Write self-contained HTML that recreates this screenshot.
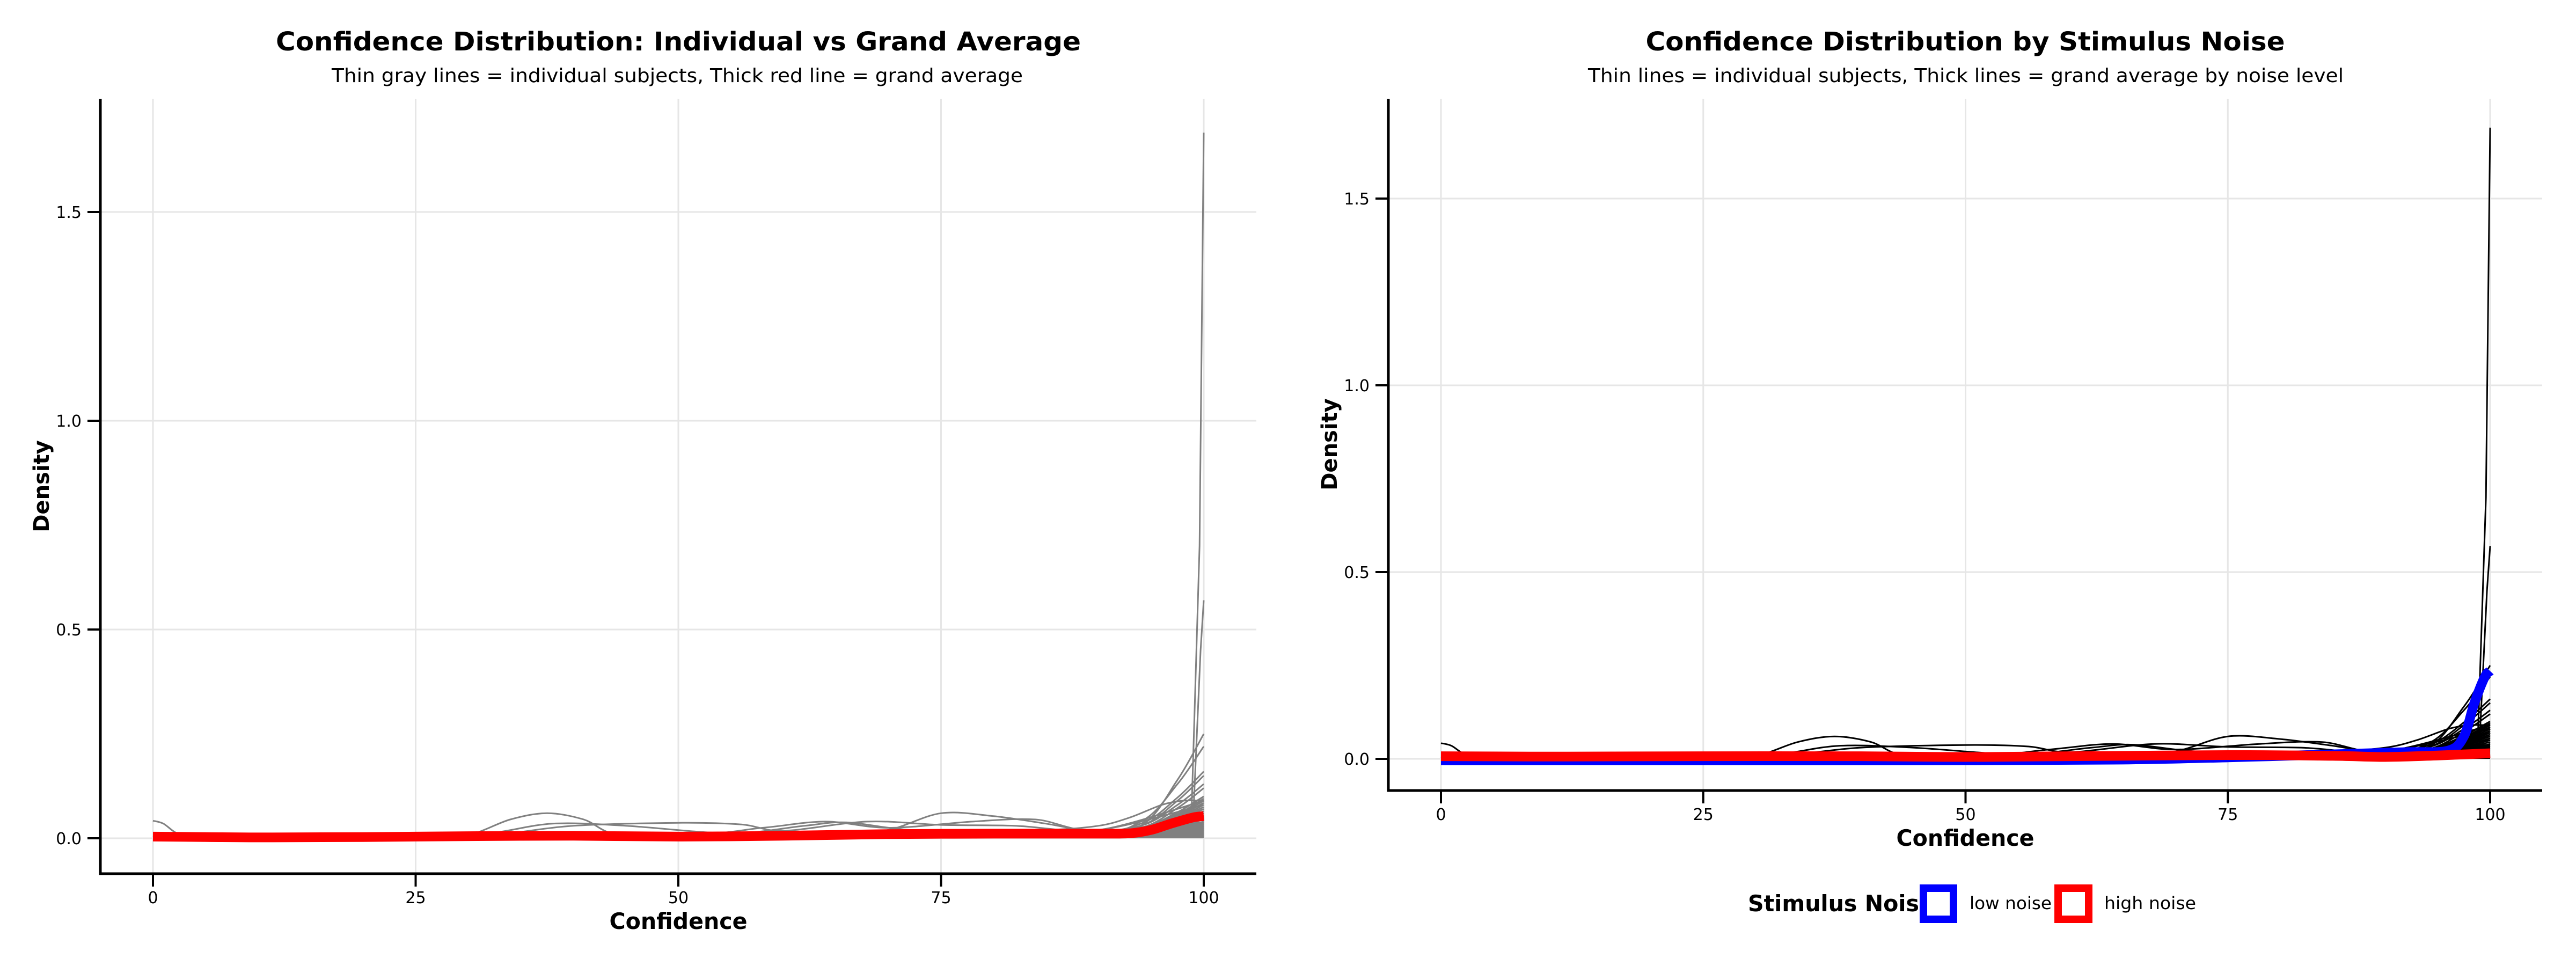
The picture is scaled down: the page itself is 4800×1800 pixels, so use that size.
<!DOCTYPE html>
<html><head><meta charset="utf-8"><style>
html,body{margin:0;padding:0;background:#fff;}
svg{display:block;font-family:"DejaVu Sans","Liberation Sans",sans-serif;}
</style></head>
<body>
<svg id="chart" xmlns="http://www.w3.org/2000/svg" width="4800" height="1800" viewBox="0 0 4800 1800">
<rect x="0" y="0" width="4800" height="1800" fill="#fff"/>
<g id="left"></g>
<g id="right"></g>
<text x="1264" y="94" text-anchor="middle" font-weight="bold" font-size="48" textLength="1500" lengthAdjust="spacingAndGlyphs">Confidence Distribution: Individual vs Grand Average</text>
<text x="1262" y="153" text-anchor="middle" font-size="36" textLength="1288" lengthAdjust="spacingAndGlyphs">Thin gray lines = individual subjects, Thick red line = grand average</text>
<text x="3662" y="94" text-anchor="middle" font-weight="bold" font-size="48" textLength="1191" lengthAdjust="spacingAndGlyphs">Confidence Distribution by Stimulus Noise</text>
<text x="3663" y="153" text-anchor="middle" font-size="36" textLength="1408" lengthAdjust="spacingAndGlyphs">Thin lines = individual subjects, Thick lines = grand average by noise level</text>
<g>
<text x="3257" y="1698" font-weight="bold" font-size="42" textLength="319" lengthAdjust="spacingAndGlyphs">Stimulus Nois</text>
<rect x="3584" y="1655" width="56" height="58" fill="#fff" stroke="#0000ff" stroke-width="14"/>
<text x="3670" y="1694" font-size="32" textLength="153" lengthAdjust="spacingAndGlyphs">low noise</text>
<rect x="3835" y="1655" width="57" height="58" fill="#fff" stroke="#ff0000" stroke-width="14"/>
<text x="3921" y="1694" font-size="32" textLength="171" lengthAdjust="spacingAndGlyphs">high noise</text>
</g>
</svg>
<script>
// ---- data ----
const xTicks = [0, 25, 50, 75, 100];
const xTickLabels = ["0", "25", "50", "75", "100"];
const yTicks = [0, 0.5, 1.0, 1.5];
const yTickLabels = ["0.0", "0.5", "1.0", "1.5"];

// individual subjects with distinct shapes (confidence x, density y)
const subjSpikeX = [0, 50, 90, 97, 98.8, 99.6, 100];
const subjSpikeY = [0.0, 0.002, 0.005, 0.01, 0.03, 0.7, 1.69];
const subjSpike2X = [0, 50, 90, 96, 99.0, 99.7, 100];
const subjSpike2Y = [0.003, 0.006, 0.008, 0.02, 0.05, 0.45, 0.57];
const subjBumpAX = [0, 25, 30, 34, 37.5, 41, 44, 50, 75, 90, 95, 100];
const subjBumpAY = [0.0, 0.0, 0.008, 0.045, 0.06, 0.045, 0.01, 0.005, 0.01, 0.012, 0.02, 0.06];
const subjBumpBX = [0, 25, 32, 38, 45, 55, 62, 66, 72, 80, 90, 100];
const subjBumpBY = [0.005, 0.004, 0.012, 0.035, 0.03, 0.012, 0.03, 0.038, 0.02, 0.018, 0.015, 0.05];
const subjBumpCX = [0, 25, 33, 40, 50, 56, 60, 68, 75, 82, 90, 100];
const subjBumpCY = [0.005, 0.004, 0.01, 0.03, 0.037, 0.033, 0.018, 0.04, 0.032, 0.03, 0.02, 0.08];
const subjBumpDX = [0, 25, 50, 65, 70, 75, 80, 85, 90, 95, 100];
const subjBumpDY = [0.003, 0.004, 0.006, 0.012, 0.02, 0.06, 0.053, 0.035, 0.015, 0.03, 0.1];
const subjBumpEX = [0, 25, 50, 58, 64, 70, 78, 84, 90, 100];
const subjBumpEY = [0.004, 0.005, 0.008, 0.025, 0.04, 0.025, 0.04, 0.045, 0.02, 0.09];
const subjBumpFX = [0, 25, 50, 75, 85, 90, 93, 96, 98, 100];
const subjBumpFY = [0.005, 0.006, 0.01, 0.018, 0.02, 0.03, 0.05, 0.08, 0.09, 0.09];
const subjBumpGX = [0, 1, 2.5, 5, 25, 50, 80, 90, 95, 100];
const subjBumpGY = [0.042, 0.035, 0.01, 0.004, 0.004, 0.006, 0.01, 0.015, 0.025, 0.07];

// remaining subjects: value at the right end (density at confidence 100)
const subjEndPeaks = [0.25, 0.22, 0.16, 0.15, 0.13, 0.12, 0.1, 0.095, 0.09, 0.085, 0.08, 0.075, 0.07, 0.065, 0.06, 0.055, 0.05, 0.045, 0.04, 0.035, 0.03, 0.025, 0.02];
const subjEndMid = [0.03, 0.04, 0.035, 0.03, 0.03, 0.025, 0.025, 0.02, 0.02, 0.02, 0.018, 0.018, 0.016, 0.015, 0.015, 0.014, 0.012, 0.012, 0.01, 0.01, 0.01, 0.008, 0.008];
// dense shaded crowd of lines near 100
const crowdX = [90, 93, 95, 97, 98, 99, 100];
const crowdY = [0.0, 0.004, 0.01, 0.025, 0.033, 0.038, 0.04];

// grand averages
const grandX = [0, 5, 10, 20, 30, 40, 50, 60, 70, 80, 90, 93, 95, 97, 99, 100];
const grandAllY = [0.004, 0.003, 0.002, 0.003, 0.005, 0.006, 0.004, 0.006, 0.01, 0.011, 0.011, 0.012, 0.02, 0.036, 0.05, 0.053];
const lowNoiseX = [0, 25, 50, 65, 75, 85, 92, 96, 97.5, 98.5, 99.5, 100];
const lowNoiseY = [-0.004, -0.004, -0.004, -0.002, 0.004, 0.012, 0.018, 0.022, 0.06, 0.15, 0.22, 0.235];
const highNoiseX = [0, 10, 25, 40, 50, 60, 75, 85, 90, 95, 100];
const highNoiseY = [0.007, 0.006, 0.007, 0.007, 0.005, 0.007, 0.01, 0.008, 0.005, 0.009, 0.015];

const NS = "http://www.w3.org/2000/svg";
function mk(parent, tag, attrs) {
  const e = document.createElementNS(NS, tag);
  for (const k in attrs) e.setAttribute(k, attrs[k]);
  parent.appendChild(e);
  return e;
}
function smoothPath(xs, ys, sx, sy) {
  const p = xs.map((x, i) => [sx(x), sy(ys[i])]);
  let d = "M" + p[0][0].toFixed(1) + "," + p[0][1].toFixed(1);
  for (let i = 0; i < p.length - 1; i++) {
    const p0 = p[Math.max(i - 1, 0)], p1 = p[i], p2 = p[i + 1], p3 = p[Math.min(i + 2, p.length - 1)];
    const t = 0.16;
    let c1x = p1[0] + (p2[0] - p0[0]) * t, c1y = p1[1] + (p2[1] - p0[1]) * t;
    let c2x = p2[0] - (p3[0] - p1[0]) * t, c2y = p2[1] - (p3[1] - p1[1]) * t;
    c1x = Math.min(Math.max(c1x, p1[0]), p2[0]); c2x = Math.min(Math.max(c2x, p1[0]), p2[0]);
    d += " C" + c1x.toFixed(1) + "," + c1y.toFixed(1) + " " + c2x.toFixed(1) + "," + c2y.toFixed(1) + " " + p2[0].toFixed(1) + "," + p2[1].toFixed(1);
  }
  return d;
}

function drawPanel(g, cfg) {
  const sx = v => cfg.x0 + (cfg.x100 - cfg.x0) * v / 100;
  const sy = v => cfg.y0 - cfg.yUnit * v;
  // grid
  xTicks.forEach(t => {
    const l = mk(g, "line", {x1: sx(t), x2: sx(t), y1: cfg.top, y2: cfg.bottom, stroke: "#e6e6e6", "stroke-width": 3});
    
    
  });
  yTicks.forEach(t => {
    const l = mk(g, "line", {x1: cfg.left, x2: cfg.right, y1: sy(t), y2: sy(t), stroke: "#e6e6e6", "stroke-width": 3});
    
    
  });
  // subjects
  const col = cfg.subjColor;
  const crowd = mk(g, "path", {d: smoothPath(crowdX, crowdY, sx, sy) + " L" + sx(100) + "," + sy(0) + " L" + sx(90) + "," + sy(0) + "Z", fill: col, stroke: "none"});
  
  
  subjEndPeaks.forEach((e, i) => {
    const m = subjEndMid[i];
    const xs = [0, 30, 60, 88, 94, 97.5, 100];
    const ys = [0.004, 0.006, 0.009, Math.min(m, 0.015), m, (m + e) / 2, e];
    const p = mk(g, "path", {d: smoothPath(xs, ys, sx, sy), fill: "none", stroke: col, "stroke-width": 3});
    
    
  });
  const named = [[subjBumpAX, subjBumpAY], [subjBumpBX, subjBumpBY], [subjBumpCX, subjBumpCY], [subjBumpDX, subjBumpDY],
    [subjBumpEX, subjBumpEY], [subjBumpFX, subjBumpFY], [subjBumpGX, subjBumpGY]];
  named.forEach(s => {
    const p = mk(g, "path", {d: smoothPath(s[0], s[1], sx, sy), fill: "none", stroke: col, "stroke-width": 3});
    
    
  });
  [[subjSpikeX, subjSpikeY], [subjSpike2X, subjSpike2Y]].forEach(s => {
    const d = s[0].map((x, i) => (i ? "L" : "M") + sx(x).toFixed(1) + "," + sy(s[1][i]).toFixed(1)).join(" ");
    const p = mk(g, "path", {d: d, fill: "none", stroke: col, "stroke-width": 3});
    
    
  });
  // grand average lines
  cfg.avgs.forEach(a => {
    const p = mk(g, "path", {d: smoothPath(a.x, a.y, sx, sy), fill: "none", stroke: a.color, "stroke-width": 18, "stroke-linejoin": "round"});
    
    
  });
  // axes
  const ya = mk(g, "line", {x1: cfg.left, x2: cfg.left, y1: cfg.top, y2: cfg.bottom + 2, stroke: "#000", "stroke-width": 5});
  
  
  const xa = mk(g, "line", {x1: cfg.left - 2, x2: cfg.right, y1: cfg.bottom, y2: cfg.bottom, stroke: "#000", "stroke-width": 5});
  
  
  xTicks.forEach((t, i) => {
    const tk = mk(g, "line", {x1: sx(t), x2: sx(t), y1: cfg.bottom, y2: cfg.bottom + 24, stroke: "#000", "stroke-width": 4});
    
    
    const tx = mk(g, "text", {x: sx(t), y: cfg.bottom + 55, "text-anchor": "middle", "font-size": 30});
    tx.textContent = xTickLabels[i];
    
    
  });
  yTicks.forEach((t, i) => {
    const tk = mk(g, "line", {x1: cfg.left - 24, x2: cfg.left, y1: sy(t), y2: sy(t), stroke: "#000", "stroke-width": 4});
    
    
    const tx = mk(g, "text", {x: cfg.left - 35, y: sy(t) + 11, "text-anchor": "end", "font-size": 30});
    tx.textContent = yTickLabels[i];
    
    
  });
  const xt = mk(g, "text", {x: (cfg.left + cfg.right) / 2, y: cfg.xTitleY + 15, "text-anchor": "middle", "font-size": 42, "font-weight": "bold", textLength: 257, lengthAdjust: "spacingAndGlyphs"});
  xt.textContent = "Confidence";
  
  
  const yt = mk(g, "text", {x: 0, y: 0, "text-anchor": "middle", "font-size": 40, "font-weight": "bold", transform: "translate(" + (cfg.yTitleX + 14) + "," + cfg.yTitleY + ") rotate(-90)"});
  yt.textContent = "Density";
  
  
}

drawPanel(document.getElementById("left"), {
  x0: 285, x100: 2243, y0: 1562, yUnit: 778, left: 187, right: 2341, top: 184, bottom: 1628,
  xTitleY: 1716, yTitleX: 77, yTitleY: 906, subjColor: "#808080",
  avgs: [{x: grandX, y: grandAllY, color: "#ff0000", name: "grand-average-line"}]
});
drawPanel(document.getElementById("right"), {
  x0: 2685, x100: 4640, y0: 1414, yUnit: 696, left: 2587, right: 4737, top: 184, bottom: 1473,
  xTitleY: 1561, yTitleX: 2477, yTitleY: 828, subjColor: "#000000",
  avgs: [{x: lowNoiseX, y: lowNoiseY, color: "#0000ff", name: "low-noise-average-line"},
         {x: highNoiseX, y: highNoiseY, color: "#ff0000", name: "high-noise-average-line"}]
});
</script>
</body></html>
